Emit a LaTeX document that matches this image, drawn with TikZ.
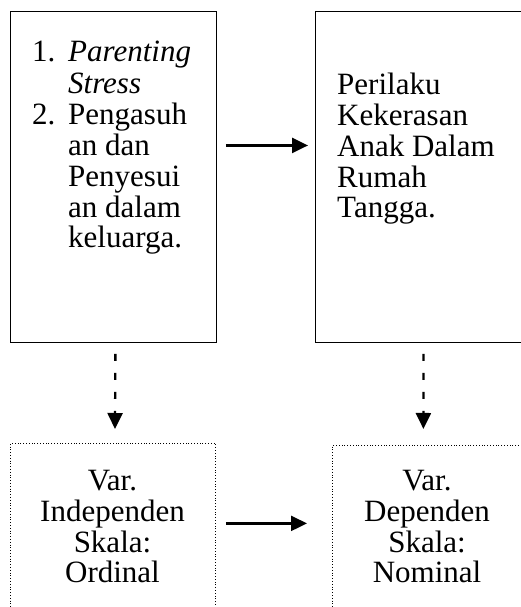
\documentclass[tikz,border=0pt]{standalone}
\usepackage{fontspec}
\setmainfont{Liberation Serif}
\usetikzlibrary{arrows.meta}

\begin{document}
\begin{tikzpicture}[x=1pt,y=1pt,
    box/.style={draw, line width=0.9pt, minimum width=206pt, minimum height=331pt, inner sep=0pt, anchor=north west},
    varbox/.style={draw, dotted, line width=0.8pt, minimum width=205pt, minimum height=200pt, inner sep=0pt, anchor=north west},
    txt/.style={inner sep=0pt, font=\fontsize{31}{30.8}\selectfont},
    arr/.style={-{Triangle[length=16pt,width=15pt]}, line width=2.3pt},
    darr/.style={arr, dash pattern=on 7pt off 12pt}]
  \useasboundingbox (0,0) rectangle (521,607);

  % Boxes
  \node[box] (stress) at (10,596) {};
  \node[box, minimum width=212pt] (kekerasan) at (315,596) {};
  \node[varbox] (indep) at (10,164) {};
  \node[varbox, minimum width=192pt] (dep) at (332,162) {};

  % Texts (anchored at the baseline of the last line)
  \node[txt, anchor=base west, align=left] (stresstxt) at (32,359)
    {\makebox[36pt][l]{1.}\textit{Parenting}\\[2pt]
     \hspace*{36pt}\textit{Stress}\\
     \makebox[36pt][l]{2.}Pengasuh\\
     \hspace*{36pt}an dan\\
     \hspace*{36pt}Penyesui\\
     \hspace*{36pt}an dalam\\
     \hspace*{36pt}keluarga.};
  \node[txt, anchor=base west, align=left] (kekerasantxt) at (337,389)
    {Perilaku\\ Kekerasan\\ Anak Dalam\\ Rumah\\ Tangga.};
  \node[txt, anchor=base, align=center] (indeptxt) at (112.5,24)
    {Var.\\ Independen\\ Skala:\\ Ordinal};
  \node[txt, anchor=base, align=center] (deptxt) at (427,24)
    {Var.\\ Dependen\\ Skala:\\ Nominal};

  % Arrows
  \draw[arr, shorten <=9pt, shorten >=7pt] ([yshift=31.5pt]stress.east) -- ([yshift=31.5pt]kekerasan.west);
  \draw[arr, shorten <=10pt, shorten >=25pt] ([yshift=20pt]indep.east) -- ([yshift=22pt]dep.west);
  \draw[darr, shorten <=11pt, shorten >=14pt] ([xshift=2pt]stress.south) -- ([xshift=2pt]indep.north);
  \draw[darr, shorten <=11pt, shorten >=16pt] ([xshift=2pt]kekerasan.south) -- ([xshift=-5pt]dep.north);
\end{tikzpicture}
\end{document}
